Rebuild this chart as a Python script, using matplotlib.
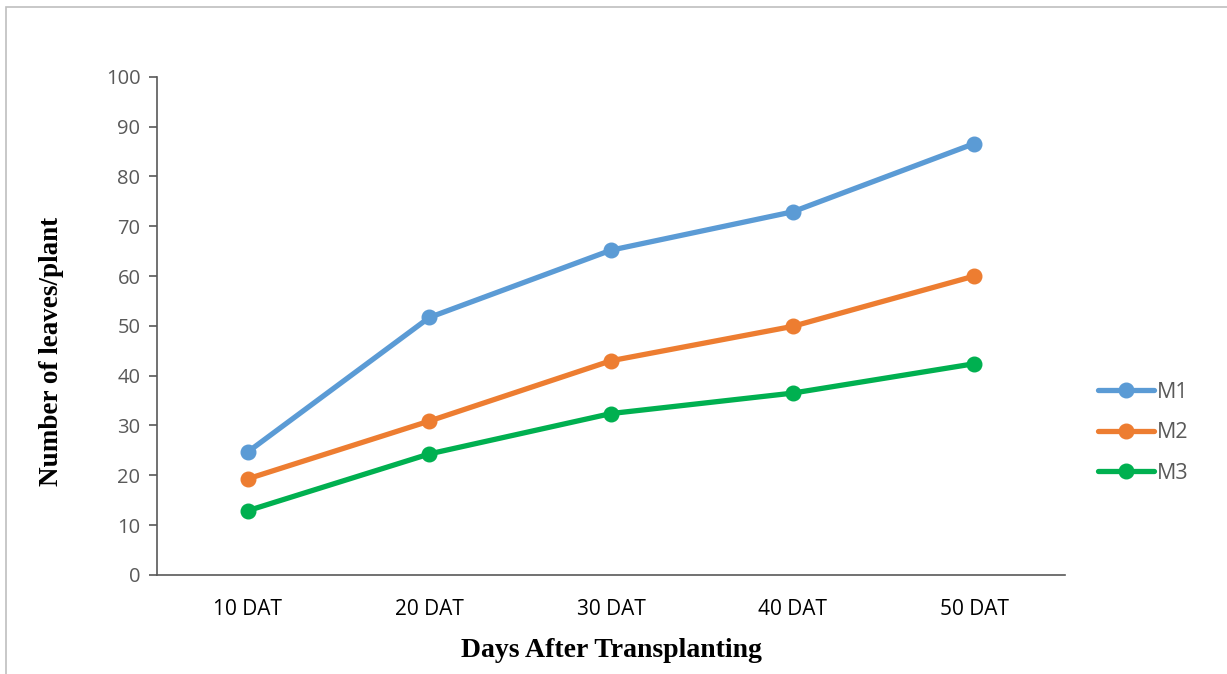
import matplotlib.pyplot as plt
from matplotlib.patches import Rectangle

days = ["10 DAT", "20 DAT", "30 DAT", "40 DAT", "50 DAT"]
m1 = [24.7, 51.7, 65.2, 72.9, 86.6]
m2 = [19.3, 30.9, 43.0, 49.9, 60.0]
m3 = [12.9, 24.3, 32.4, 36.5, 42.4]

series = {"M1": (m1, "#5B9BD5"), "M2": (m2, "#ED7D31"), "M3": (m3, "#00B050")}
grey = "#595959"

fig = plt.figure(figsize=(12.27, 6.74), dpi=100)
ax = fig.add_axes([0.128, 0.147, 0.740, 0.739])

x = list(range(len(days)))
for name, (vals, col) in series.items():
    ax.plot(x, vals, color=col, lw=3.8, marker="o", ms=10.5, label=name,
            solid_capstyle="round")

ax.set_xlim(-0.5, len(days) - 0.5)
ax.set_ylim(0, 100)
ax.set_yticks(range(0, 101, 10))
ax.set_xticks(x)
ax.set_xticklabels(days)
for s in ["top", "right"]:
    ax.spines[s].set_visible(False)
for s in ["left", "bottom"]:
    ax.spines[s].set_color(grey)
    ax.spines[s].set_linewidth(1.2)
ax.tick_params(axis="y", colors=grey, labelsize=14.5, length=6, width=1.2, pad=6)
ax.tick_params(axis="x", colors=grey, labelsize=15, length=0, pad=17)
for lab in ax.get_xticklabels():
    lab.set_color("black")
    lab.set_fontfamily("Open Sans")
for lab in ax.get_yticklabels():
    lab.set_fontfamily("Open Sans")

ax.set_xlabel("Days After Transplanting", fontfamily="Liberation Serif",
              fontweight="bold", fontsize=20, labelpad=13)
ax.set_ylabel("Number of leaves/plant", fontfamily="Liberation Serif",
              fontweight="bold", fontsize=19.5)
ax.yaxis.set_label_coords(-0.102, 0.448)

leg = fig.legend(loc="center left", bbox_to_anchor=(0.879, 0.358), frameon=False,
                 prop={"family": "Open Sans", "size": 15.5}, labelcolor=grey,
                 handlelength=2.6, handletextpad=0.15, labelspacing=0.9)

fig.patches.append(Rectangle((0.005, -0.01), 1.2, 0.999, transform=fig.transFigure,
                             fill=False, edgecolor="#BFBFBF", lw=1.2))

fig.savefig("out.png", dpi=100)
